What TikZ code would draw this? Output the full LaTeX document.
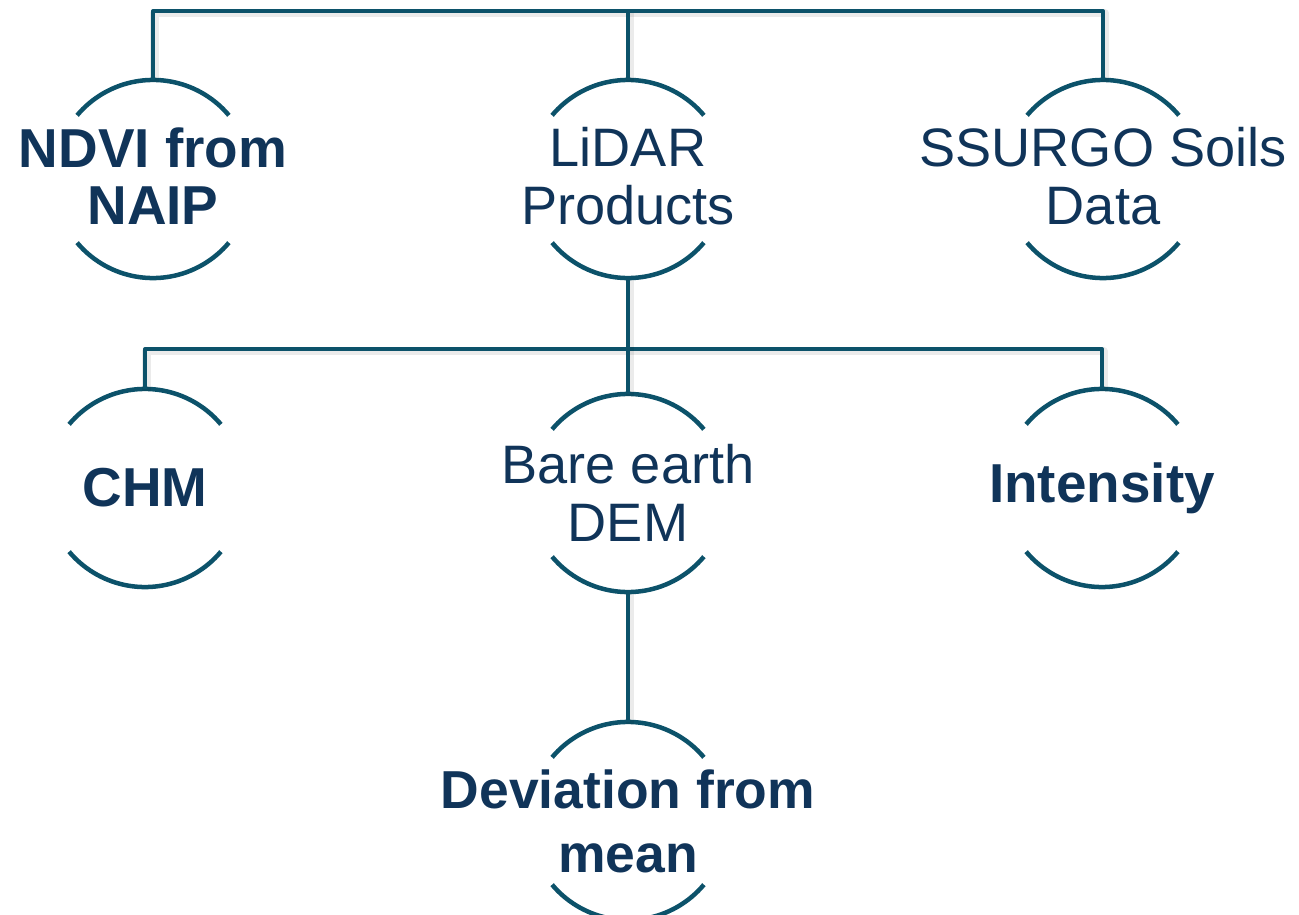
\documentclass[tikz,border=0pt]{standalone}
\usepackage{fontspec}
\setmainfont{Liberation Sans}

\definecolor{linecol}{RGB}{12,82,106}
\definecolor{txtcol}{RGB}{16,52,89}

\begin{document}
\begin{tikzpicture}[x=0.01cm,y=0.01cm,line join=round,
  ringnode/.style={circle,minimum size=1.98cm,inner sep=0pt,outer sep=0pt},
  txt/.style={align=center,text=txtcol,inner sep=0pt,font=\fontsize{15.4}{16.6}\selectfont},
  boldtxt/.style={txt,font=\fontsize{15.6}{16.2}\selectfont\bfseries},
  ring/.style={draw=linecol,line width=0.045cm},
  link/.style={draw=linecol,line width=0.04cm,
    preaction={draw=black,opacity=0.08,line width=0.08cm,
      transform canvas={shift={(0.015cm,-0.02cm)}}}}]

% ===== 参数 =====
\def\R{0.99cm}   % 圆半径
\def\arcw{50}    % 上下弧的半张角 (度)

% ===== 画布范围 =====
\useasboundingbox (0,0) rectangle (1299,914);
\clip (0,0) rectangle (1299,914);

% ===== 第一层 =====
\node[ringnode] (ndvi)   at (153,735) {};
\node[ringnode] (lidar)  at (628,735) {};
\node[ringnode] (ssurgo) at (1103,735) {};
\node[boldtxt,yshift=0.03cm] (ndvi-t)   at (ndvi)   {NDVI from\\NAIP};
\node[txt,yshift=0.03cm]     (lidar-t)  at (lidar)  {LiDAR\\Products};
\node[txt,yshift=0.03cm]     (ssurgo-t) at (ssurgo) {SSURGO Soils\\Data};

% ===== 第二层 =====
\node[ringnode] (chm)       at (145,426) {};
\node[ringnode] (bare)      at (628,421) {};
\node[ringnode] (intensity) at (1102,426) {};
\node[boldtxt] (chm-t)       at (chm)       {CHM};
\node[txt]     (bare-t)      at (bare)      {Bare earth\\DEM};
\node[boldtxt] (intensity-t) at (intensity) {Intensity};

% ===== 第三层 =====
\node[ringnode] (deviation) at (628,93) {};
\node[boldtxt,font=\fontsize{15.2}{18.2}\selectfont\bfseries] (deviation-t) at (deviation) {Deviation from\\mean};

% ===== 圆弧(上弧 + 下弧) =====
\foreach \n in {ndvi,lidar,ssurgo,chm,bare,intensity,deviation}{
  \draw[ring] (\n.center) ++(90-\arcw:\R) arc[start angle=90-\arcw,end angle=90+\arcw,radius=\R];
  \draw[ring] (\n.center) ++(270-\arcw:\R) arc[start angle=270-\arcw,end angle=270+\arcw,radius=\R];
}

% ===== 连接线 =====
\coordinate (topbar) at (0,903);
\coordinate (midbar) at (0,565);
\draw[link] (ndvi.north) -- (ndvi.north |- topbar) -| (ssurgo.north);
\draw[link] (lidar.north) -- (lidar.north |- topbar);
\draw[link] (chm.north) -- (chm.north |- midbar) -| (intensity.north);
\draw[link] (lidar.south) -- (bare.north);
\draw[link] (bare.south) -- (deviation.north);

\end{tikzpicture}
\end{document}
